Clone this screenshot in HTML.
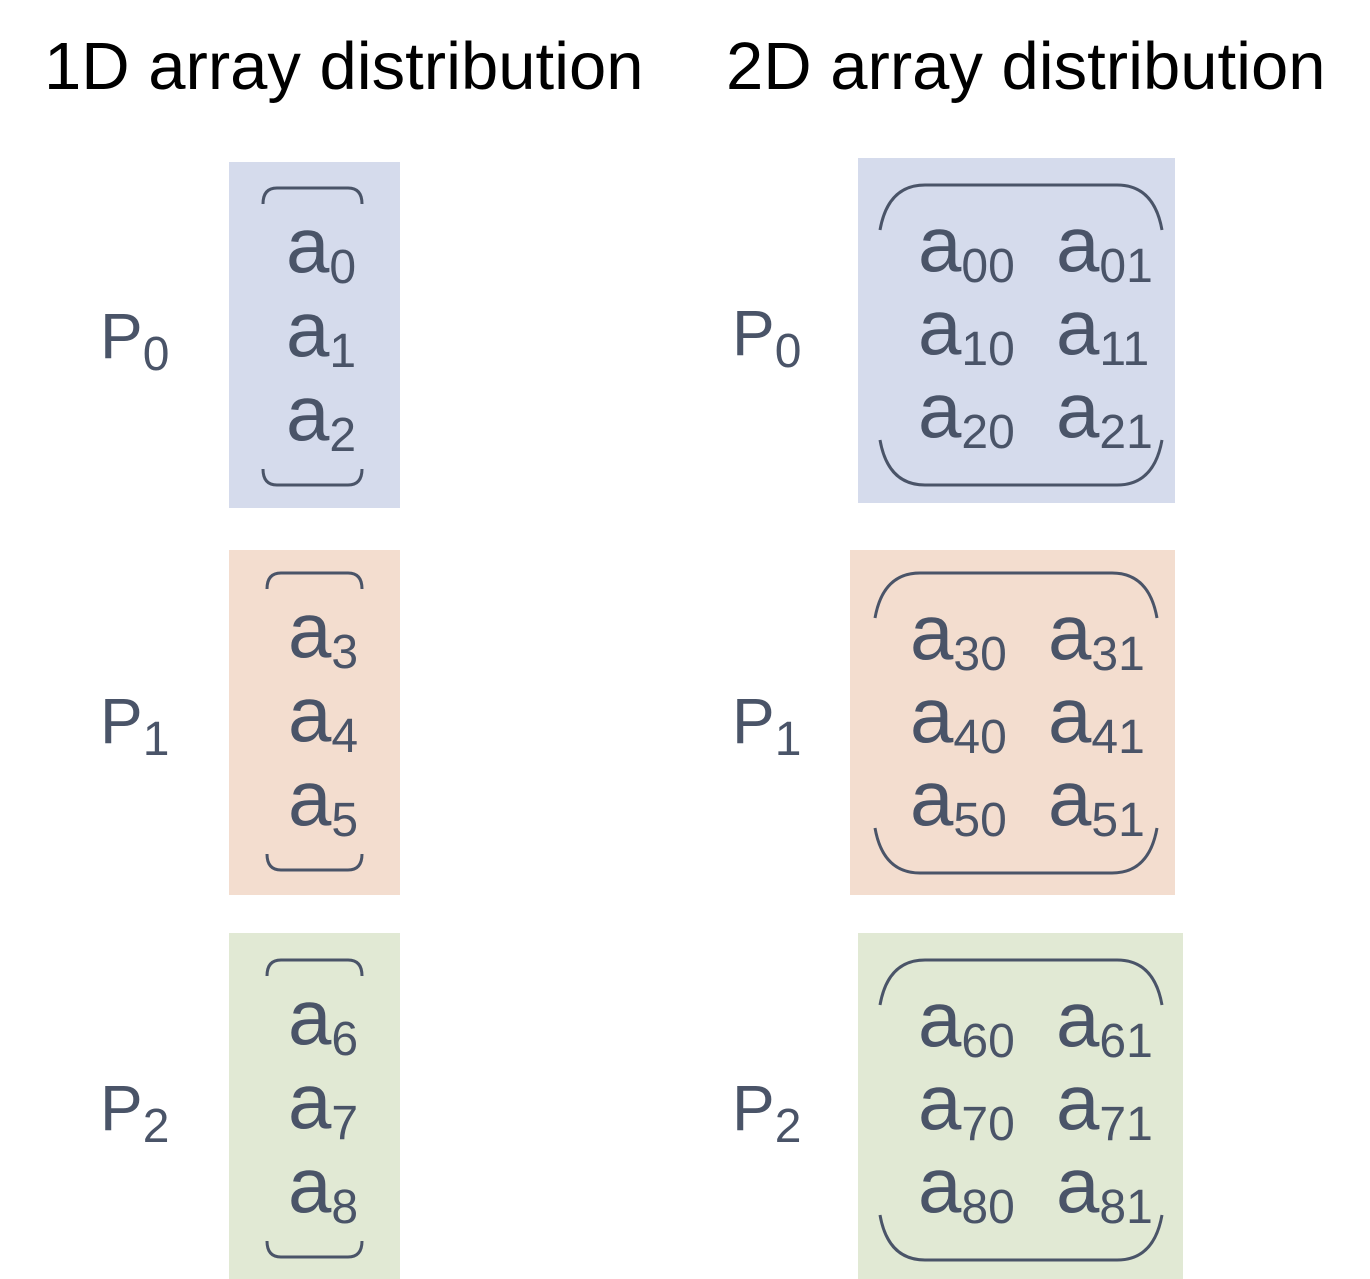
<!DOCTYPE html>
<html><head><meta charset="utf-8"><style>
html,body{margin:0;padding:0;background:#fff;}
svg{display:block;}
text{font-family:"Liberation Sans",sans-serif;fill:#4a5468;}
.t{fill:#000;font-size:67px;}
.p{font-size:64px;}
.a{font-size:78px;}
.s{font-size:48px;}
.br{fill:none;stroke:#4a5468;stroke-width:3;}
</style></head><body>
<svg width="1370" height="1279" viewBox="0 0 1370 1279">
<text class="t" x="44" y="89">1D array distribution</text>
<text class="t" x="726" y="89">2D array distribution</text>

<rect x="229" y="162" width="171" height="346" fill="#d5dbec"/>
<rect x="229" y="550" width="171" height="345" fill="#f3ddcf"/>
<rect x="229" y="933" width="171" height="346" fill="#e1e9d4"/>
<rect x="858" y="158" width="317" height="345" fill="#d5dbec"/>
<rect x="850" y="550" width="325" height="345" fill="#f3ddcf"/>
<rect x="858" y="933" width="325" height="346" fill="#e1e9d4"/>

<g id="g"></g>
</svg>
<script>
const procs=[0,1,2];
const leftTop=[188,573,960];
const rightTop=[185,573,960];
const rightX=[880,875,880];
const g=document.getElementById('g');
const NS='http://www.w3.org/2000/svg';
function txt(x,y,cls,s,name){const t=document.createElementNS(NS,'text');t.setAttribute('x',x);t.setAttribute('y',y);t.setAttribute('class',cls);t.textContent=s;


g.appendChild(t);return t;}
function path(d,name){const p=document.createElementNS(NS,'path');p.setAttribute('d',d);p.setAttribute('class','br');


g.appendChild(p);}
function sub(x,y,base,s,name){const t=txt(x,y,'a','',name);t.appendChild(document.createTextNode(base));const ts=document.createElementNS(NS,'tspan');ts.setAttribute('class','s');ts.setAttribute('dy','11');ts.textContent=s;t.appendChild(ts);}
procs.forEach(p=>{
  const top=leftTop[p];
  const lx=p===0?263:267;
  path(`M${lx},${top+16} Q${lx},${top} ${lx+14},${top} L${362-14},${top} Q362,${top} 362,${top+16}`,'bracket-top-1d-p'+p);
  const bot=top+297;
  path(`M${lx},${bot-16} Q${lx},${bot} ${lx+14},${bot} L${362-14},${bot} Q362,${bot} 362,${bot-16}`,'bracket-bottom-1d-p'+p);
  for(let r=0;r<3;r++){
    sub(p===0?286:288,top+84+r*84,'a',String(p*3+r),'element-a'+(p*3+r));
  }
  txt(100,top+170,'p','','label-1d-p'+p);
  const pl=g.lastChild;pl.textContent='P';const ts=document.createElementNS(NS,'tspan');ts.setAttribute('class','s');ts.setAttribute('dy','12');ts.textContent=p;pl.appendChild(ts);
  const rt=rightTop[p], x0=rightX[p], x1=x0+282;
  path(`M${x0},${rt+45} Q${x0+8},${rt} ${x0+45},${rt} L${x1-45},${rt} Q${x1-8},${rt} ${x1},${rt+45}`,'bracket-top-2d-p'+p);
  const rb=rt+300;
  path(`M${x0},${rb-45} Q${x0+8},${rb} ${x0+45},${rb} L${x1-45},${rb} Q${x1-8},${rb} ${x1},${rb-45}`,'bracket-bottom-2d-p'+p);
  const cx=x0+38-(p===1?3:0);
  for(let r=0;r<3;r++){
    for(let c=0;c<2;c++){
      const i=p*3+r;
      sub(cx+c*138,rt+86+r*83,'a',''+i+c,'element-a'+i+c);
    }
  }
  txt(732,rt+170,'p','','label-2d-p'+p);
  const pl2=g.lastChild;pl2.textContent='P';const ts2=document.createElementNS(NS,'tspan');ts2.setAttribute('class','s');ts2.setAttribute('dy','12');ts2.textContent=p;pl2.appendChild(ts2);
});
</script>
</body></html>
